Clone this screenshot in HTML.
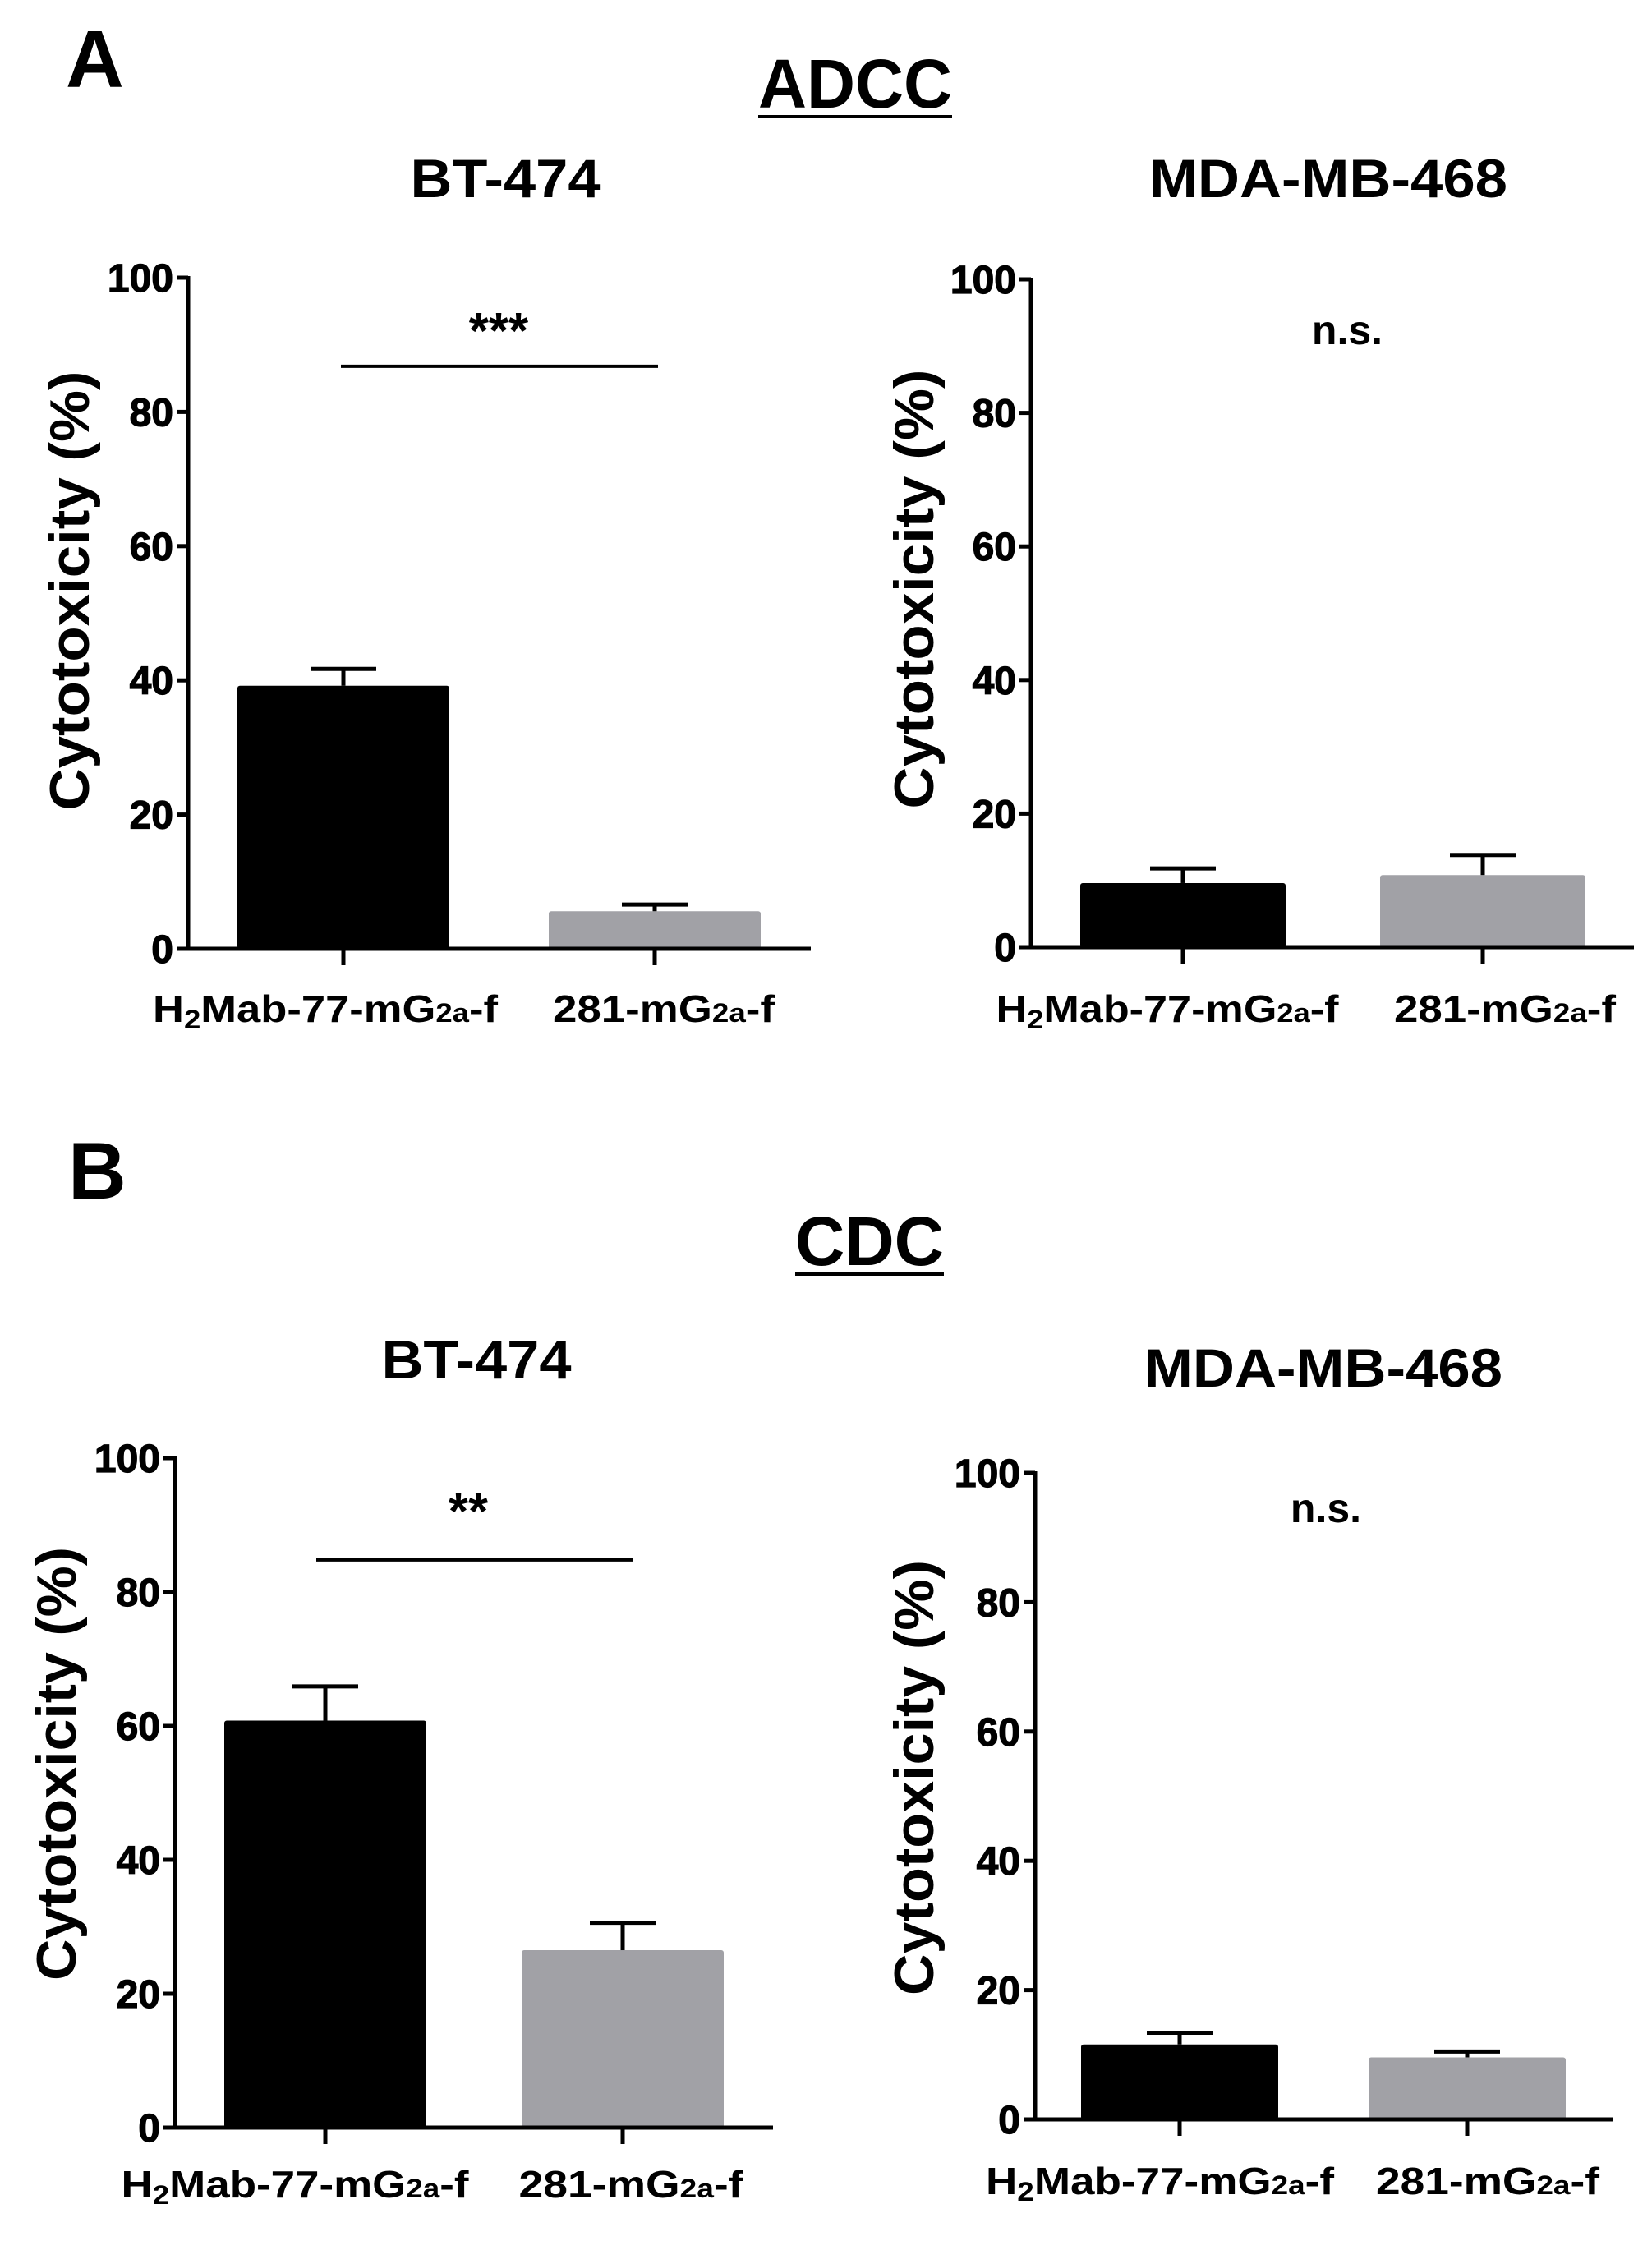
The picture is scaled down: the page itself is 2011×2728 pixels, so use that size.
<!DOCTYPE html>
<html><head><meta charset="utf-8"><style>
html,body{margin:0;padding:0;background:#fff}
svg{display:block}
text{font-family:"Liberation Sans",Arial,sans-serif;font-weight:bold;fill:#000}
</style></head><body>
<svg id="fig" width="2011" height="2728" viewBox="0 0 2011 2728" xmlns="http://www.w3.org/2000/svg">
<text x="80" y="106" font-size="98">A</text>
<text x="923" y="131" font-size="84" textLength="236" lengthAdjust="spacingAndGlyphs">ADCC</text>
<line x1="923" y1="142" x2="1159" y2="142" stroke="#000" stroke-width="4"/>
<text x="83" y="1459" font-size="98">B</text>
<text x="968" y="1540" font-size="84" textLength="181" lengthAdjust="spacingAndGlyphs">CDC</text>
<line x1="968" y1="1551" x2="1149" y2="1551" stroke="#000" stroke-width="4"/>
</svg>
<script>
const categories = ["H2Mab-77-mG2a-f", "281-mG2a-f"];
const yTicks = [0, 20, 40, 60, 80, 100];
const panelTitles = ["BT-474", "MDA-MB-468", "BT-474", "MDA-MB-468"];
const adccBt474Values = [39.2, 5.6];
const adccBt474Errors = [2.5, 1.0];
const adccMdaValues = [9.6, 10.8];
const adccMdaErrors = [2.2, 3.0];
const cdcBt474Values = [60.8, 26.5];
const cdcBt474Errors = [5.1, 4.1];
const cdcMdaValues = [11.6, 9.6];
const cdcMdaErrors = [1.8, 0.9];
const sigLabels = ["***", "n.s.", "**", "n.s."];
const sigLevels = [86.8, null, 84.8, null];

const NS = "http://www.w3.org/2000/svg";
const svg = document.getElementById("fig");
const colors = ["#000000", "#a1a1a6"];

const layouts = [
  {ax:229, y100:338, y0:1155, xEnd:987, ticks:[418,797], bw:258, titleX:615, titleY:240, sigX:[415,801], sigTextX:607, sigTextY:424, labelX:[396,808], labelW:[420,270], labelY:1244, ytX:108, ytY:719, ytLen:535, values:adccBt474Values, errors:adccBt474Errors, key:"adcc-bt474"},
  {ax:1255, y100:340, y0:1153, xEnd:1989, ticks:[1440,1805], bw:250, titleX:1617, titleY:240, sigX:null, sigTextX:1640, sigTextY:419, labelX:[1421,1832], labelW:[417,270], labelY:1244, ytX:1136, ytY:717, ytLen:535, values:adccMdaValues, errors:adccMdaErrors, key:"adcc-mda"},
  {ax:213, y100:1775, y0:2590, xEnd:941, ticks:[396,758], bw:246, titleX:580, titleY:1678, sigX:[385,771], sigTextX:570, sigTextY:1861, labelX:[359,768], labelW:[423,273], labelY:2675, ytX:92, ytY:2147, ytLen:528, values:cdcBt474Values, errors:cdcBt474Errors, key:"cdc-bt474"},
  {ax:1260, y100:1793, y0:2580, xEnd:1963, ticks:[1436,1786], bw:240, titleX:1611, titleY:1688, sigX:null, sigTextX:1614, sigTextY:1853, labelX:[1412,1811], labelW:[424,272], labelY:2671, ytX:1136, ytY:2164, ytLen:530, values:cdcMdaValues, errors:cdcMdaErrors, key:"cdc-mda"}
];

function mk(tag, attrs, parent){
  const e = document.createElementNS(NS, tag);
  for (const k in attrs) e.setAttribute(k, attrs[k]);
  (parent||svg).appendChild(e);
  return e;
}

layouts.forEach((L, p) => {
  const g = mk("g", {});
  
  
  const yS = v => L.y0 - (v/100)*(L.y0 - L.y100);

  const t = mk("text", {x:L.titleX, y:L.titleY, "font-size":66, "text-anchor":"middle", textLength: p%2 ? 436 : 231, lengthAdjust:"spacingAndGlyphs"}, g);
  t.textContent = panelTitles[p];
  
  

  L.values.forEach((v, i) => {
    const cx = L.ticks[i];
    const r = mk("rect", {x:cx - L.bw/2, y:yS(v), width:L.bw, height:yS(0)-yS(v), fill:colors[i], rx:3}, g);
    
    
    const top = yS(v + L.errors[i]);
    const w = mk("line", {x1:cx, y1:yS(v), x2:cx, y2:top, stroke:"#000", "stroke-width":5}, g);
    
    
    const c = mk("line", {x1:cx-40, y1:top, x2:cx+40, y2:top, stroke:"#000", "stroke-width":5}, g);
    
    
  });

  const ya = mk("line", {x1:L.ax, y1:L.y100-2, x2:L.ax, y2:L.y0+2, stroke:"#000", "stroke-width":5}, g);
  
  
  const xa = mk("line", {x1:L.ax-14, y1:L.y0, x2:L.xEnd, y2:L.y0, stroke:"#000", "stroke-width":5}, g);
  
  

  yTicks.forEach(tv => {
    const y = yS(tv);
    const tl = mk("line", {x1:L.ax-14, y1:y, x2:L.ax, y2:y, stroke:"#000", "stroke-width":5}, g);
    
    
    const tt = mk("text", {x:L.ax-18, y:y+17, "font-size":48, "text-anchor":"end", stroke:"#000", "stroke-width":1.2}, g);
    tt.textContent = tv;
    
    
  });

  categories.forEach((c, i) => {
    const tk = mk("line", {x1:L.ticks[i], y1:L.y0, x2:L.ticks[i], y2:L.y0+20, stroke:"#000", "stroke-width":5}, g);
    
    
    const lab = mk("text", {x:L.labelX[i], y:L.labelY, "font-size":46, "text-anchor":"middle", textLength:L.labelW[i], lengthAdjust:"spacingAndGlyphs"}, g);
    
    
    if (i === 0) {
      lab.innerHTML = 'H<tspan font-size="32" dy="8">2</tspan><tspan dy="-8">Mab-77-mG</tspan><tspan font-size="32">2a</tspan>-f';
    } else {
      lab.innerHTML = '281-mG<tspan font-size="32">2a</tspan>-f';
    }
  });

  const yt = mk("text", {x:0, y:0, "font-size":68, "text-anchor":"middle", textLength:L.ytLen, lengthAdjust:"spacingAndGlyphs", transform:`translate(${L.ytX},${L.ytY}) rotate(-90)`}, g);
  yt.textContent = "Cytotoxicity (%)";
  
  

  if (sigLevels[p] !== null) {
    const sy = yS(sigLevels[p]);
    const sl = mk("line", {x1:L.sigX[0], y1:sy, x2:L.sigX[1], y2:sy, stroke:"#000", "stroke-width":4}, g);
    
    
  }
  const st = mk("text", {x:L.sigTextX, y:L.sigTextY, "font-size": sigLevels[p]===null ? 50 : 62, "text-anchor":"middle"}, g);
  st.textContent = sigLabels[p];
  
  
});
</script>
</body></html>
